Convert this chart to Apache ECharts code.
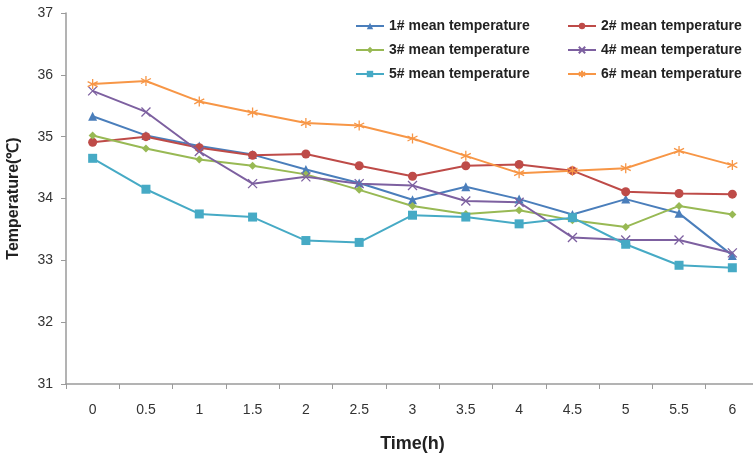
<!DOCTYPE html>
<html><head><meta charset="utf-8">
<script src="https://cdn.jsdelivr.net/npm/echarts@6/dist/echarts.min.js"></script>
<style>html,body{margin:0;padding:0;background:#fff}#c{width:753px;height:457px}</style>
</head><body><div id="c"></div>
<script>
const categories = ['0','0.5','1','1.5','2','2.5','3','3.5','4','4.5','5','5.5','6'];
const names = ['1# mean temperature','2# mean temperature','3# mean temperature','4# mean temperature','5# mean temperature','6# mean temperature'];
const s1 = [35.33,35.02,34.85,34.71,34.47,34.25,33.98,34.19,33.99,33.74,33.99,33.76,33.08];
const s2 = [34.91,35.00,34.82,34.70,34.72,34.53,34.36,34.53,34.55,34.45,34.11,34.08,34.07];
const s3 = [35.02,34.81,34.63,34.53,34.39,34.14,33.88,33.75,33.81,33.65,33.54,33.88,33.74];
const s4 = [35.74,35.40,34.76,34.24,34.35,34.24,34.21,33.96,33.94,33.37,33.33,33.33,33.12];
const s5 = [34.65,34.15,33.75,33.70,33.32,33.29,33.73,33.70,33.59,33.69,33.26,32.92,32.88];
const s6 = [35.85,35.90,35.57,35.39,35.22,35.18,34.97,34.69,34.41,34.45,34.49,34.77,34.54];
const yTicks = {min:31, max:37, interval:1};

const colors = ['#4a7ebb','#be4b48','#98b954','#7d60a0','#46aac5','#f79646'];
const xPath = 'path://M-1,-1 L1,1 M-1,1 L1,-1';
const starPath = 'path://M0,-1 L0,1 M-0.87,-0.5 L0.87,0.5 M-0.87,0.5 L0.87,-0.5';
const symbols = ['triangle','circle','diamond',xPath,'rect',starPath];
const sizes = [9,9,8,9,9,10];
const data = [s1,s2,s3,s4,s5,s6];

const chart = echarts.init(document.getElementById('c'), null, {renderer:'canvas'});
const font = 'Liberation Sans, Arial, sans-serif';
const series = data.map((d,i)=>{
  const stroke = (i===3||i===5);
  return {
    name: names[i], type:'line', data:d, symbol:symbols[i], symbolSize:sizes[i],
    showAllSymbol:true, animation:false,
    lineStyle:{color:colors[i], width:2},
    itemStyle: stroke ? {color:colors[i], borderColor:colors[i], borderWidth:1.3} : {color:colors[i], borderWidth:0},
    emphasis:{disabled:true}
  };
});
const legendCommon = {orient:'vertical', itemWidth:28, itemHeight:8, itemGap:10,
  textStyle:{fontFamily:font, fontSize:14, fontWeight:'bold', color:'#222'}};
chart.setOption({
  backgroundColor:'#fff',
  animation:false,
  grid:{left:66, right:-6, top:13, bottom:73, containLabel:false, outerBoundsMode:'none'},
  legend:[
    Object.assign({left:350, top:14, data:[names[0],names[2],names[4]]}, legendCommon),
    Object.assign({left:562, top:14, data:[names[1],names[3],names[5]]}, legendCommon)
  ],
  xAxis:{type:'category', data:categories, boundaryGap:true,
    name:'Time(h)', nameLocation:'middle', nameGap:51,
    nameTextStyle:{fontFamily:font, fontSize:18, fontWeight:'bold', color:'#222'},
    axisLine:{lineStyle:{color:'#9a9a9a', width:1.5}},
    axisTick:{show:true, length:5, lineStyle:{color:'#9a9a9a'}},
    axisLabel:{fontFamily:font, fontSize:14, color:'#333', margin:19}},
  yAxis:{type:'value', min:yTicks.min, max:yTicks.max, interval:yTicks.interval,
    name:'Temperature(℃)', nameLocation:'middle', nameGap:44,
    nameTextStyle:{fontFamily:font, fontSize:16, fontWeight:'bold', color:'#222'},
    axisLine:{show:true, lineStyle:{color:'#9a9a9a', width:1.5}},
    axisTick:{show:true, length:5, lineStyle:{color:'#9a9a9a'}},
    splitLine:{show:false},
    axisLabel:{fontFamily:font, fontSize:14, color:'#333', margin:13}},
  series: series
});
</script></body></html>
